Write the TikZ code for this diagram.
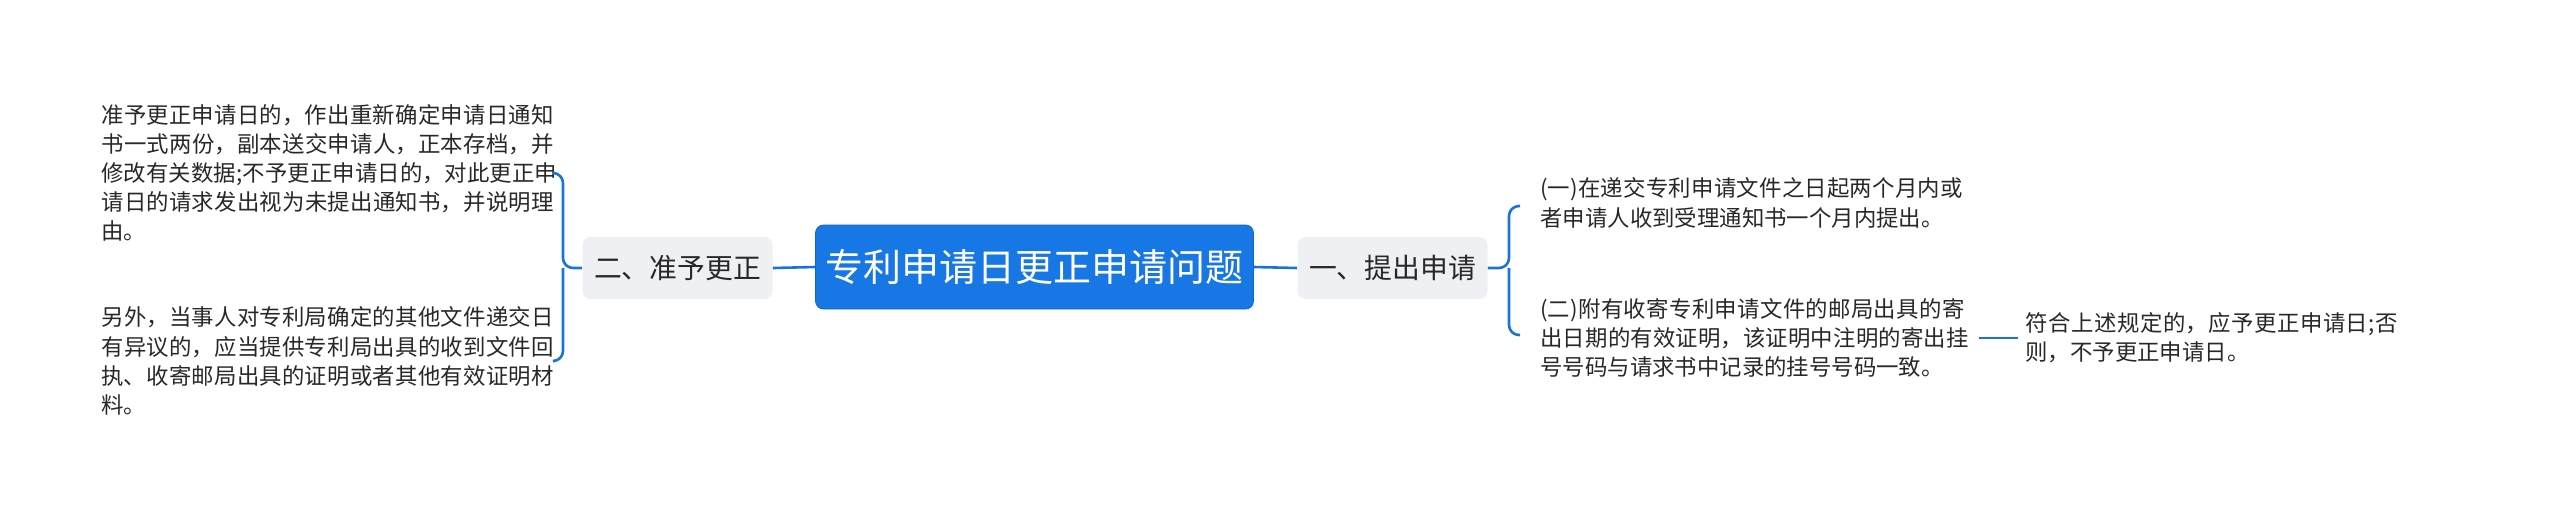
\documentclass[tikz,border=0pt]{standalone}
\usepackage{fontspec}
\setmainfont{Noto Sans CJK SC}
\XeTeXlinebreaklocale "zh"
\XeTeXlinebreakskip=0pt plus 1pt
\definecolor{rootblue}{RGB}{22,119,229}
\definecolor{linkblue}{RGB}{26,115,217}
\definecolor{subgray}{RGB}{238,240,243}
\definecolor{txtgray}{RGB}{40,40,40}
\begin{document}
\begin{tikzpicture}[x=0.5pt,y=-0.5pt,
    rootnode/.style={fill=rootblue,draw=rootblue!85!black,rounded corners=4pt,text=white,font=\fontsize{19}{23}\selectfont,minimum width=219pt,minimum height=42pt,inner sep=0pt},
    subnode/.style={fill=subgray,rounded corners=4pt,text=txtgray,font=\fontsize{13.9}{17}\selectfont,minimum width=95pt,minimum height=31pt,inner sep=0pt},
    leafnode/.style={text=txtgray,font=\fontsize{11.2}{14.6}\selectfont,align=left,inner sep=0pt},
    link/.style={draw=linkblue,line width=1.3pt,rounded corners=5pt}]
    \useasboundingbox (0,0) rectangle (2560,521);
    \node[rootnode] (root) at (1034.5,267) {专利申请日更正申请问题};
    \node[subnode] (left) at (677.5,268) {二、准予更正};
    \node[subnode] (right) at (1392.5,268) {一、提出申请};
    % left side
    \node[leafnode,text width=229pt,anchor=west] (l1) at (101,173) {准予更正申请日的，作出重新确定申请日通知书一式两份，副本送交申请人，正本存档，并修改有关数据;不予更正申请日的，对此更正申请日的请求发出视为未提出通知书，并说明理由。};
    \node[leafnode,text width=229pt,anchor=west] (l2) at (101,361) {另外，当事人对专利局确定的其他文件递交日有异议的，应当提供专利局出具的收到文件回执、收寄邮局出具的证明或者其他有效证明材料。};
    % right side
    \node[leafnode,text width=214pt,anchor=west] (r1) at (1540,203) {(一)在递交专利申请文件之日起两个月内或者申请人收到受理通知书一个月内提出。};
    \node[leafnode,text width=216pt,anchor=west] (r2) at (1540,338) {(二)附有收寄专利申请文件的邮局出具的寄出日期的有效证明，该证明中注明的寄出挂号号码与请求书中记录的挂号号码一致。};
    \node[leafnode,text width=192pt,anchor=west] (r3) at (2025,338) {符合上述规定的，应予更正申请日;否则，不予更正申请日。};
    % links
    \draw[link] (root.west) -- (left.east);
    \draw[link] (root.east) -- (right.west);
    \draw[link] (left.west) -- (563,268) |- (555,173);
    \draw[link] (563,268) |- (555,361);
    \draw[link] (right.east) -- (1509,268) |- (1520,206);
    \draw[link] (1509,268) |- (1520,335);
    \draw[link] (1979,338) -- (2018,338);
\end{tikzpicture}
\end{document}
